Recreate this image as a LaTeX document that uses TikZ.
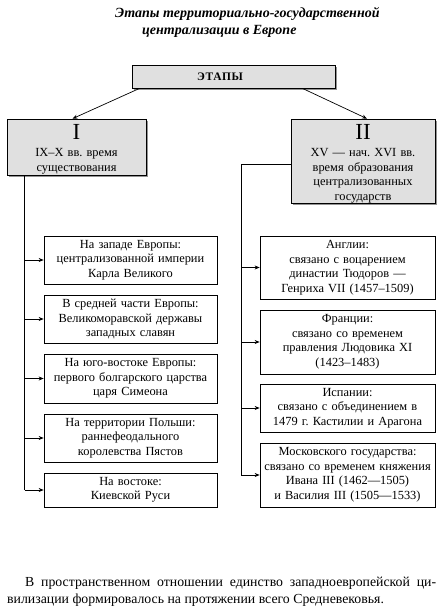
\documentclass[tikz,border=0pt]{standalone}
\usepackage{fontspec}
\setmainfont{Liberation Serif}
\usetikzlibrary{arrows.meta,shadows,calc}
\definecolor{boxgray}{HTML}{E0E0E0}
\frenchspacing
\begin{document}
\frenchspacing
\begin{tikzpicture}[x=1pt,y=-1pt,
  box/.style={draw,line width=0.7pt,align=center,inner sep=0pt,font=\fontsize{12.4}{14.5}\selectfont},
  gbox/.style={box,fill=boxgray,drop shadow={shadow xshift=1.6pt,shadow yshift=-1.6pt,fill=gray!85,opacity=1}},
  gtext/.style={inner sep=0pt,anchor=north,align=center,text width=136pt,font=\fontsize{12.4}{14.5}\selectfont},
  lbox/.style={box,minimum width=173pt,text width=171pt},
  rbox/.style={box,minimum width=175pt,text width=173pt},
  arr/.style={-{Stealth[length=5pt,width=4pt]},line width=0.7pt},
  ln/.style={line width=0.7pt},
  ttl/.style={inner sep=0pt,anchor=west,font=\fontsize{14}{16}\selectfont\bfseries\itshape}]
\useasboundingbox (0,0) rectangle (442,611);
% title
\node[ttl] (t1) at (115,14) {Этапы территориально-государственной};
\node[ttl] (t2) at (142,31) {централизации в Европе};
% top boxes
\node[gbox,minimum width=203pt,minimum height=23pt,font=\fontsize{11.5}{12}\selectfont\bfseries\addfontfeature{LetterSpace=6}] (etapy) at (233.5,76.5) {ЭТАПЫ\hspace*{27pt}};
\node[gbox,minimum width=139pt,minimum height=56pt] (b1) at (76.5,147) {};
\node[gtext] (b1t) at ($(b1.north)+(0,6)$)
  {{\fontsize{23}{24}\selectfont I}\\[2.5pt] IX–X вв. время\\ существования};
\node[gbox,minimum width=144pt,minimum height=84pt] (b2) at (363,161) {};
\node[gtext] (b2t) at ($(b2.north)+(0,6)$)
  {{\fontsize{23}{24}\selectfont II}\\[2.5pt] XV — нач. XVI вв.\\ время образования\\ централизованных\\ государств};
\draw[arr] ($(etapy.south west)+(8,0)$) -- ($(b1.north)+(-4,0)$);
\draw[arr] ($(etapy.south east)+(-33,0)$) -- ($(b2.north)+(4,0)$);
% left boxes
\node[lbox,minimum height=48pt] (l1) at (130.5,260) {На западе Европы:\\ централизованной империи\\ Карла Великого};
\node[lbox,minimum height=48pt] (l2) at (130.5,319) {В средней части Европы:\\ Великоморавской державы\\ западных славян};
\node[lbox,minimum height=49pt] (l3) at (130.5,378.5) {На юго-востоке Европы:\\ первого болгарского царства\\ царя Симеона};
\node[lbox,minimum height=48pt] (l4) at (130.5,438) {На территории Польши:\\ раннефеодального\\ королевства Пястов};
\node[lbox,minimum height=34pt] (l5) at (130.5,490) {На востоке:\\ Киевской Руси};
% right boxes
\node[rbox,minimum height=63pt] (r1) at (347.5,267.5) {Англии:\\ связано с воцарением\\ династии Тюдоров —\\ Генриха VII (1457–1509)};
\node[rbox,minimum height=64pt] (r2) at (347.5,342) {Франции:\\ связано со временем\\ правления Людовика XI\\ (1423–1483)};
\node[rbox,minimum height=48pt] (r3) at (347.5,408) {Испании:\\ связано с объединением в\\ 1479 г. Кастилии и Арагона};
\node[rbox,minimum height=64pt] (r4) at (347.5,475) {Московского государства:\\ связано со временем княжения\\ Ивана III (1462—1505)\\ и Василия III (1505—1533)};
% left trunk
\coordinate (lt) at ($(b1.south west)+(18,0)$);
\draw[ln] (lt) -- (lt |- l5.west);
\foreach \n in {l1,l2,l3,l4,l5} \draw[arr] (lt |- \n.west) -- (\n.west);
% right trunk
\coordinate (rt) at (241,164);
\draw[ln] (b2.west |- rt) -- (rt) -- (rt |- r4.west);
\foreach \n in {r1,r2,r3,r4} \draw[arr] (rt |- \n.west) -- (\n.west);
% paragraph
\node[inner sep=0pt,anchor=north west,text width=429pt,align=justify,font=\fontsize{13.8}{16.5}\selectfont\frenchspacing] (par) at (7,577)
  {\hspace*{18pt}В пространственном отношении единство западноевропейской ци-\linebreak вилизации формировалось на протяжении всего Средневековья.};
\end{tikzpicture}
\end{document}
